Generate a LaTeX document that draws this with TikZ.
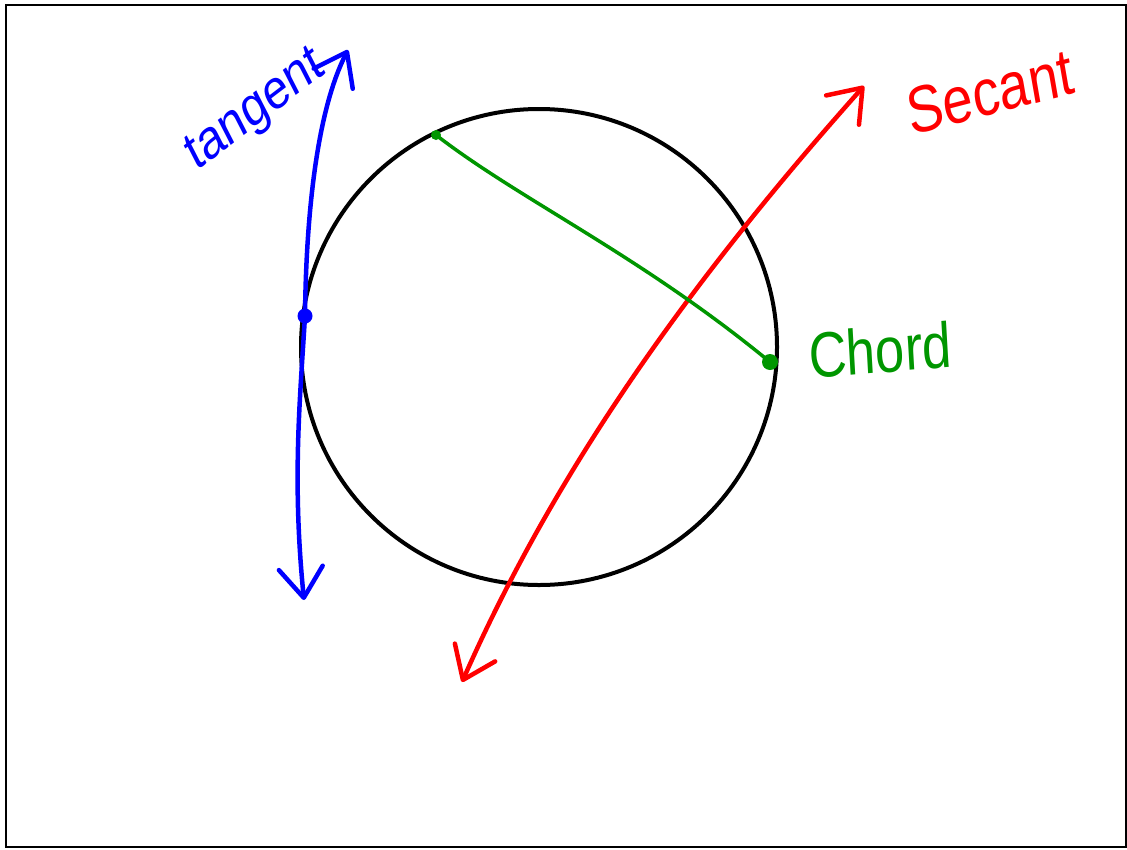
\documentclass[tikz,border=0pt]{standalone}
\usepackage{fontspec}
\setmainfont{Liberation Sans}
\usetikzlibrary{arrows.meta,positioning,calc}
\definecolor{penblue}{RGB}{0,0,255}
\definecolor{penred}{RGB}{255,0,0}
\definecolor{pengreen}{RGB}{0,150,0}
\begin{document}
\begin{tikzpicture}[
        x=1pt, y=-1pt,
        barb/.tip={Straight Barb[length=30pt, width=44pt, line width=4.5pt, round]},
        tanline/.style={penblue, line width=4.5pt, line cap=round, barb-barb},
        secline/.style={penred, line width=4.5pt, line cap=round, barb-barb},
        chordline/.style={pengreen, line width=3.5pt, line cap=round},
        dot/.style={circle, fill, inner sep=0pt, minimum size=#1},
        lbl/.style={font=\fontsize{#1}{#1}\selectfont, inner sep=0pt, xscale=0.82}
    ]
        \useasboundingbox (0,0) rectangle (1127,849);
        \draw[line width=2.5pt] (6,5) rectangle (1126,847);
        \node[draw, circle, line width=4pt, inner sep=0pt, minimum size=476pt] (circ) at (539,347) {};
        % tangent
        \coordinate (tantop) at (348,50);
        \coordinate (tanbot) at (304,600);
        \node[dot=15pt, penblue] (tanpt) at (305,316) {};
        \draw[tanline] (tantop) .. controls (316,112) and (306,220) .. (tanpt.center)
            .. controls (300,400) and (292,480) .. (tanbot);
        \node[lbl=56, penblue, rotate=32] (tanlbl) at (256,112) {tangent};
        % secant
        \coordinate (sectop) at (864,86);
        \coordinate (secbot) at (462,682);
        \draw[secline] (sectop) .. controls (700,270) and (560,460) .. (secbot);
        \node[lbl=66, penred, rotate=12] (seclbl) at (990,92) {Secant};
        % chord
        \node[dot=10pt, pengreen] (chA) at (436,135) {};
        \node[dot=16pt, pengreen] (chB) at (770,362) {};
        \draw[chordline] (chA.center) .. controls (520,200) and (640,255) .. (chB.center);
        \node[lbl=64, pengreen, rotate=4] (chlbl) at (880,350) {Chord};
    \end{tikzpicture}
\end{document}
